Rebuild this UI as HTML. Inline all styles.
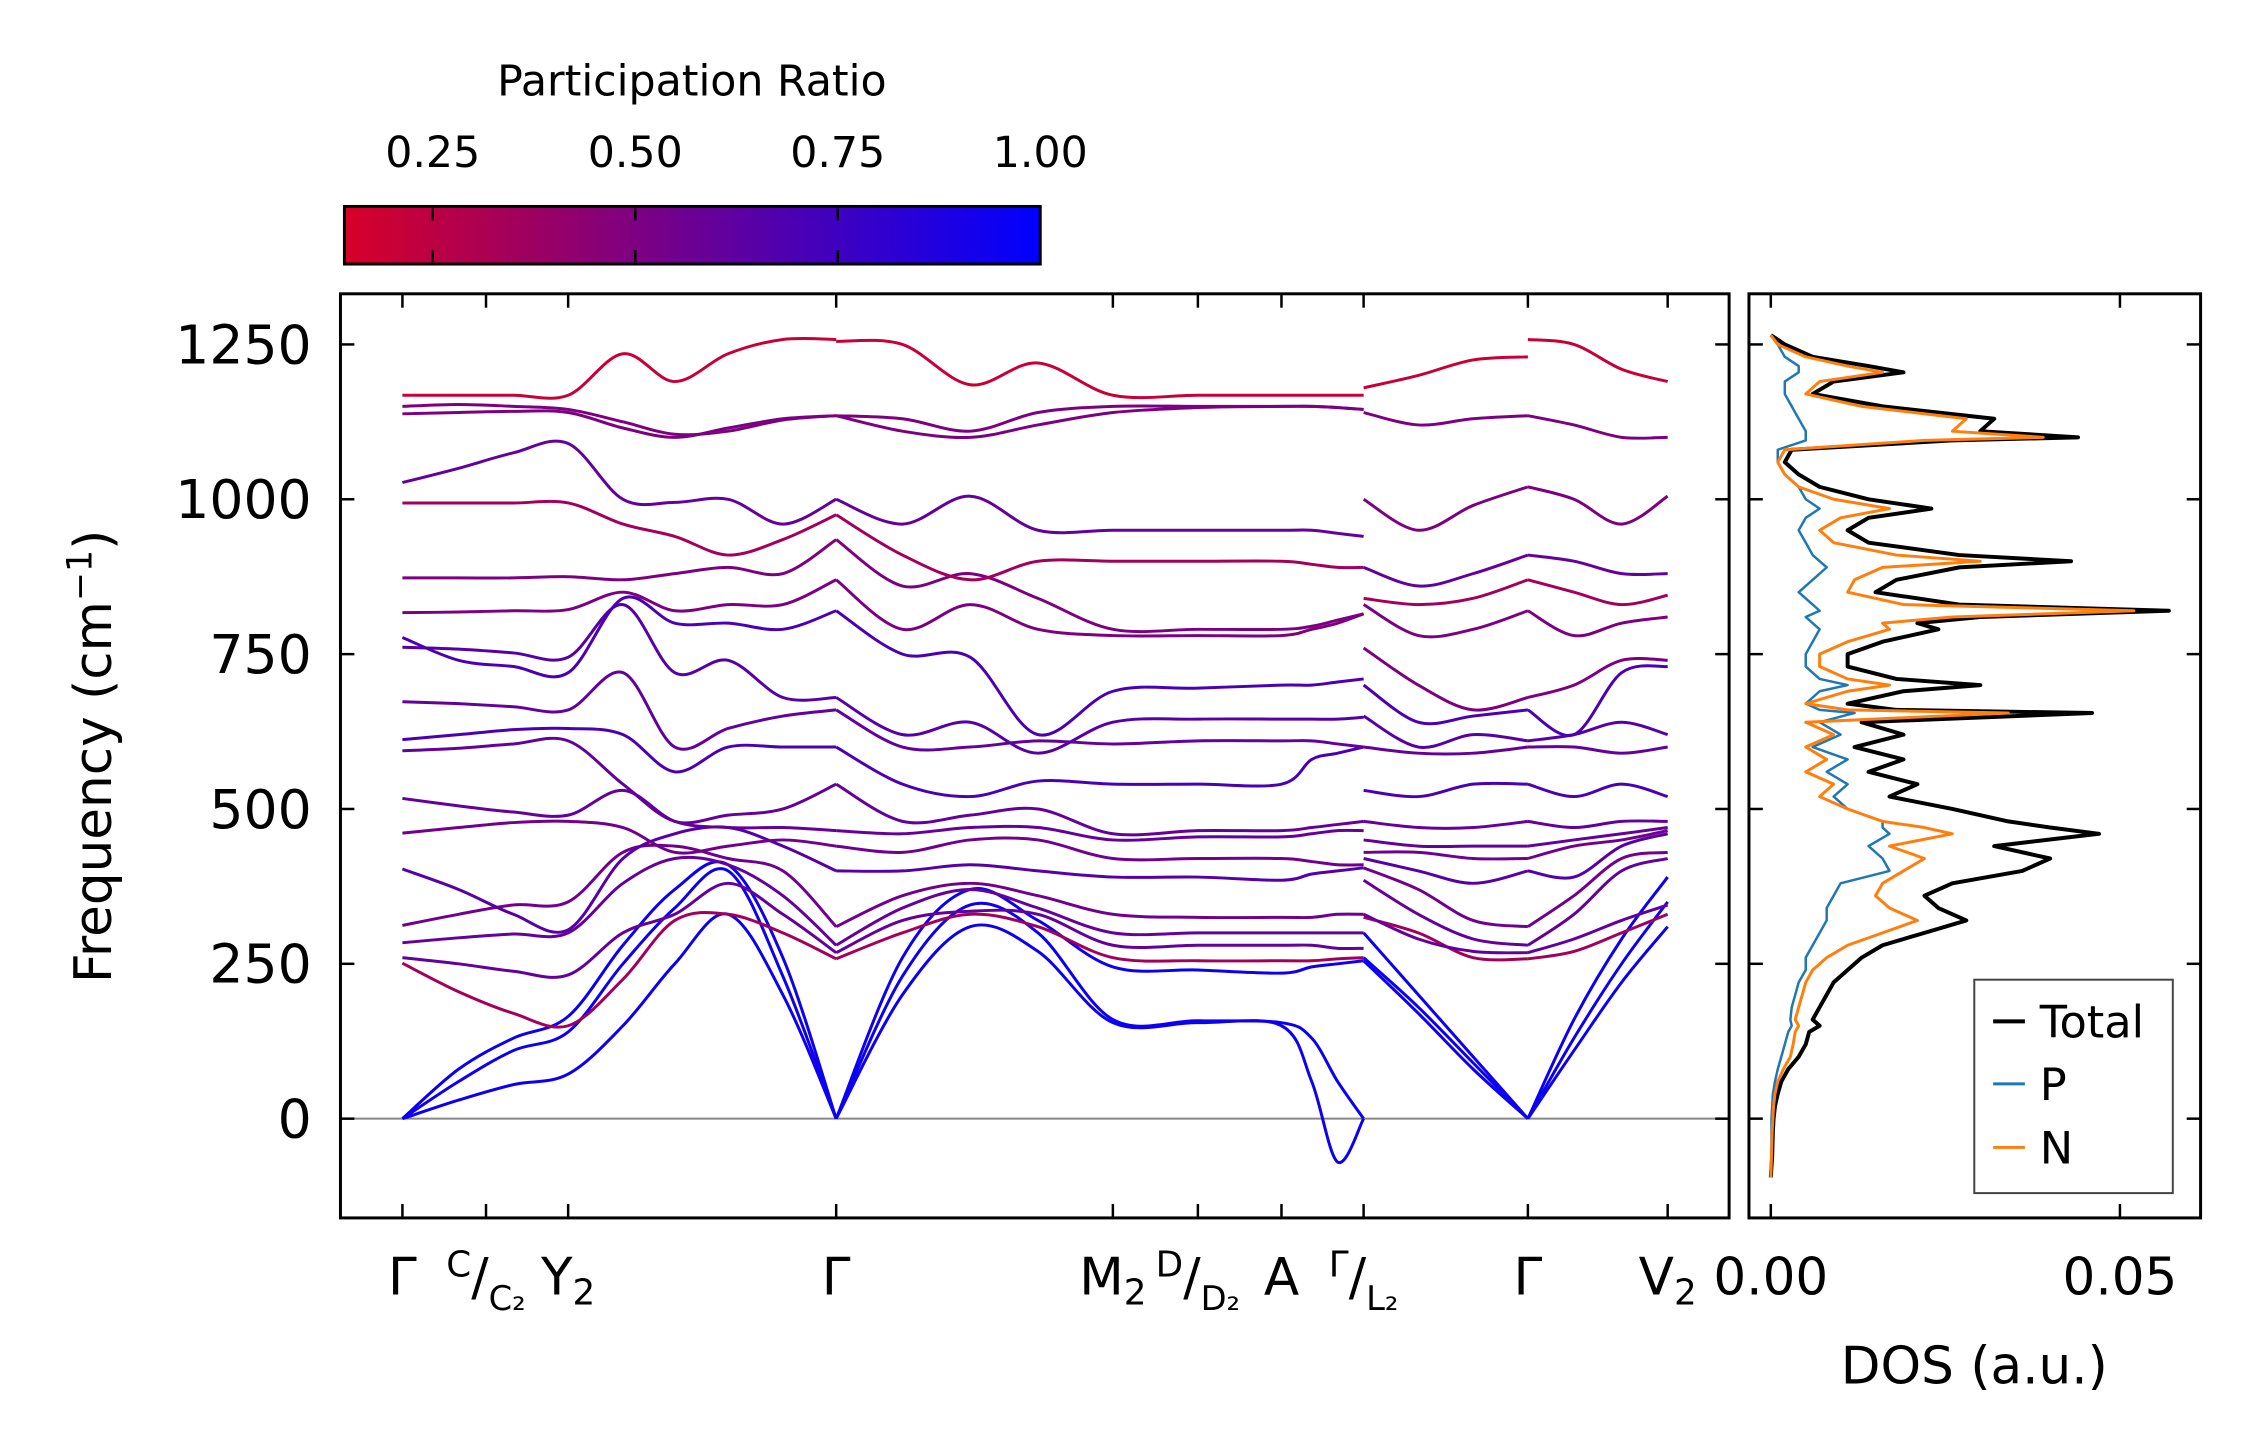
<!DOCTYPE html>
<html><head><meta charset="utf-8"><style>
html,body{margin:0;padding:0;background:#fff}
svg{display:block}
text{font-family:"DejaVu Sans","Liberation Sans",sans-serif;fill:#000}
</style></head><body>
<svg id="fig" width="2259" height="1455" viewBox="0 0 2259 1455" xmlns="http://www.w3.org/2000/svg">
<defs>
<linearGradient id="cbgrad" x1="0" x2="1" y1="0" y2="0">
<stop offset="0" stop-color="rgb(215,0,40)"/><stop offset="1" stop-color="rgb(0,0,255)"/>
</linearGradient>
<clipPath id="mainclip"><rect x="343" y="296" width="1399" height="931"/></clipPath>
<clipPath id="dosclip"><rect x="1762" y="296" width="455" height="931"/></clipPath>
</defs>
<g transform="scale(0.9926)">
<g id="colorbar">
<text x="697" y="96" font-size="43" text-anchor="middle">Participation Ratio</text>
<rect x="347" y="208" width="701" height="58" fill="url(#cbgrad)" stroke="#000" stroke-width="3"/>
<g id="cbticks"></g>
</g>
<g id="main">
<line x1="343" x2="1742" y1="1127" y2="1127" stroke="#888" stroke-width="2"/>
<g id="bands" clip-path="url(#mainclip)"></g>
<rect x="343" y="296" width="1399" height="931" fill="none" stroke="#000" stroke-width="3"/>
<g id="mainticks"></g>
<text transform="translate(112,762) rotate(-90)" font-size="52" text-anchor="middle">Frequency (cm<tspan font-size="35" dy="-20">−1</tspan><tspan dy="20">)</tspan></text>
</g>
<g id="dos">
<g id="doslines" clip-path="url(#dosclip)"></g>
<rect x="1762" y="296" width="455" height="931" fill="none" stroke="#000" stroke-width="3"/>
<g id="dosticks"></g>
<text x="1989" y="1394" font-size="52" text-anchor="middle">DOS (a.u.)</text>
<g>
<rect x="1989" y="987" width="200" height="215" fill="#fff" stroke="#444" stroke-width="2"/>
<line x1="2008" x2="2040" y1="1029" y2="1029" stroke="#000" stroke-width="4"/>
<text x="2055" y="1045" font-size="45">Total</text>
<line x1="2008" x2="2040" y1="1092" y2="1092" stroke="#1f77b4" stroke-width="3"/>
<text x="2055" y="1108" font-size="45">P</text>
<line x1="2008" x2="2040" y1="1156" y2="1156" stroke="#ff7f0e" stroke-width="3"/>
<text x="2055" y="1172" font-size="45">N</text>
</g>
</g>
</g>
</svg>
<script>
// ---- chart data ----
const kA = [279,318,356,394,432,468,505,543,580];
const kB = [580,626,673,720,772,831,889,910,928,946];
const kC = [946,984,1022,1060];
const kD = [1060,1092,1125,1157];
const bandA = [
[0,30,55,72,150,250,330,200,0],[0,60,110,140,250,340,400,230,0],[0,80,130,165,280,370,410,260,0],
[251,205,170,150,225,320,330,300,258],[260,250,238,232,300,330,380,330,268],[284,292,298,300,380,420,410,360,280],
[312,330,345,350,430,440,420,400,310],[403,370,330,305,420,460,470,440,400],[461,470,478,480,470,430,440,450,440],
[517,505,495,490,530,480,470,470,465],[594,598,605,610,540,480,490,500,540],[612,620,628,630,620,560,600,600,600],
[673,670,665,660,720,600,630,650,660],[761,758,752,745,830,720,740,680,680],[777,740,730,720,840,800,800,790,820],
[817,818,820,822,850,820,830,830,870],[873,873,873,875,870,880,890,880,935],[994,994,994,994,960,940,910,935,975],
[1027,1050,1075,1090,1000,995,1000,960,1000],[1138,1140,1142,1140,1115,1100,1115,1130,1135],
[1150,1153,1150,1145,1125,1105,1110,1128,1135],[1168,1168,1168,1168,1235,1190,1235,1258,1258]];
const bandB = [
[0,200,310,270,155,155,150,60,-70,0],[0,230,345,300,160,158,155,130,60,0],[0,260,370,320,245,240,235,245,250,255],
[258,300,330,310,260,255,255,255,258,260],[268,320,335,330,280,280,280,280,275,275],[280,340,370,340,300,300,300,300,300,300],
[310,360,380,360,330,325,325,325,330,330],[400,400,410,400,390,390,385,395,400,405],[440,430,450,450,420,420,420,415,410,410],
[465,460,470,470,450,455,455,460,465,465],[540,480,490,500,460,465,465,470,475,480],[600,540,520,545,540,540,540,580,590,600],
[660,600,600,610,605,610,610,610,605,600],[680,620,640,590,640,645,645,645,645,648],[820,750,745,620,690,695,700,700,705,710],
[870,790,830,790,780,780,780,790,800,815],[935,860,880,840,790,790,790,795,805,815],[975,910,870,900,900,900,900,895,890,890],
[1000,960,1005,950,950,950,950,950,945,940],[1135,1110,1100,1120,1140,1148,1150,1150,1148,1145],
[1135,1130,1110,1140,1150,1150,1150,1150,1148,1145],[1255,1250,1185,1220,1168,1168,1168,1168,1168,1168]];
const bandC = [
[255,170,80,0],[260,180,90,0],[300,200,100,0],[325,300,260,258],[330,290,270,268],[385,330,290,280],
[405,370,320,310],[420,400,380,400],[430,430,420,420],[450,440,440,440],[480,470,470,480],[530,520,540,540],
[600,590,590,600],[650,600,620,610],[700,640,650,660],[760,700,660,680],[830,780,790,820],[840,830,840,870],
[890,860,880,910],[1000,950,990,1020],[1140,1120,1130,1135],[1180,1200,1225,1230]];
const bandD = [
[0,110,220,310],[0,130,250,350],[0,160,290,390],[258,270,300,330],[268,290,320,345],[280,330,400,420],
[310,360,420,430],[400,390,440,460],[420,440,450,465],[440,450,460,470],[480,470,480,480],[540,520,540,520],
[600,600,590,600],[610,620,640,620],[660,620,720,730],[680,700,740,740],[820,780,800,810],[870,850,830,845],
[910,900,880,880],[1020,1000,960,1005],[1135,1120,1100,1100],[1258,1250,1210,1190]];
const bandPR = [0.95,0.95,0.95,0.35,0.6,0.6,0.55,0.65,0.55,0.6,0.6,0.7,0.6,0.65,0.7,0.5,0.5,0.35,0.6,0.5,0.5,0.2];
const kTicks = [279,337,394,580,772,831,889,946,1060,1157];
const yTicks = [0,250,500,750,1000,1250];
const cbTicks = [0.25,0.5,0.75,1.0];
const dosFreq = [-95,-60,-20,0,20,40,60,80,100,120,140,150,160,180,200,220,240,260,280,300,320,340,360,380,400,420,440,460,470,480,500,520,540,560,580,600,620,640,655,660,670,690,700,710,730,750,770,790,800,810,820,830,850,870,890,900,910,930,950,970,985,1000,1020,1040,1060,1080,1095,1100,1110,1130,1150,1170,1190,1205,1215,1230,1250,1265];
const dosTotal = [0,0.0002,0.0003,0.0004,0.0006,0.001,0.0015,0.0025,0.004,0.005,0.0055,0.007,0.006,0.007,0.008,0.009,0.011,0.013,0.016,0.022,0.028,0.024,0.022,0.026,0.036,0.040,0.032,0.047,0.040,0.034,0.026,0.017,0.021,0.014,0.019,0.012,0.019,0.013,0.046,0.018,0.011,0.019,0.030,0.018,0.011,0.011,0.016,0.024,0.021,0.030,0.057,0.027,0.015,0.018,0.027,0.043,0.027,0.014,0.011,0.014,0.023,0.014,0.007,0.004,0.002,0.003,0.026,0.044,0.030,0.032,0.016,0.006,0.009,0.019,0.014,0.006,0.002,0];
const dosN = [0,0.0001,0.0002,0.0003,0.0004,0.0006,0.001,0.0018,0.0028,0.0032,0.0035,0.004,0.0035,0.004,0.0045,0.005,0.006,0.008,0.011,0.016,0.021,0.017,0.015,0.016,0.019,0.022,0.017,0.026,0.022,0.016,0.011,0.007,0.009,0.005,0.008,0.005,0.009,0.005,0.034,0.011,0.005,0.011,0.017,0.011,0.007,0.007,0.011,0.017,0.016,0.026,0.052,0.019,0.011,0.012,0.016,0.030,0.018,0.009,0.007,0.01,0.017,0.009,0.004,0.002,0.001,0.002,0.022,0.039,0.026,0.028,0.013,0.005,0.007,0.016,0.011,0.005,0.001,0];
const dosP = [0,0.0001,0.0001,0.0001,0.0002,0.0003,0.0006,0.001,0.0015,0.002,0.0025,0.003,0.0028,0.003,0.0035,0.004,0.005,0.005,0.006,0.007,0.008,0.008,0.009,0.01,0.017,0.016,0.014,0.017,0.016,0.016,0.011,0.009,0.011,0.008,0.011,0.006,0.01,0.007,0.012,0.007,0.005,0.007,0.011,0.007,0.005,0.005,0.006,0.007,0.006,0.005,0.007,0.006,0.004,0.006,0.008,0.007,0.006,0.005,0.004,0.005,0.007,0.005,0.004,0.002,0.001,0.001,0.005,0.005,0.005,0.004,0.003,0.002,0.002,0.004,0.004,0.002,0.001,0];

// ---- scales ----
const NS = 'http://www.w3.org/2000/svg';
function xK(k){ return 343 + (k - 236) * 1.4518; }
function yF(f){ return 1127 - f * 0.624; }
function xD(d){ return 1784 + d * 7035; }
function xPR(p){ return 347 + (p - 0.141) / (1 - 0.141) * 701; }
function prColor(p){ const t=(p-0.141)/(1-0.141); return 'rgb('+Math.round(215*(1-t))+',0,'+Math.round(40+215*t)+')'; }
function mk(tag, parent){ const e=document.createElementNS(NS,tag); parent.appendChild(e); return e; }
function smoothPath(pts){
  let d='M'+pts[0][0].toFixed(1)+','+pts[0][1].toFixed(1);
  for(let i=0;i<pts.length-1;i++){
    const p0=pts[Math.max(0,i-1)],p1=pts[i],p2=pts[i+1],p3=pts[Math.min(pts.length-1,i+2)];
    const c1=[p1[0]+(p2[0]-p0[0])/6,p1[1]+(p2[1]-p0[1])/6];
    const c2=[p2[0]-(p3[0]-p1[0])/6,p2[1]-(p3[1]-p1[1])/6];
    d+='C'+c1[0].toFixed(1)+','+c1[1].toFixed(1)+' '+c2[0].toFixed(1)+','+c2[1].toFixed(1)+' '+p2[0].toFixed(1)+','+p2[1].toFixed(1);
  }
  return d;
}
// ---- bands ----
const gB = document.getElementById('bands');
const segs = [[kA,bandA],[kB,bandB],[kC,bandC],[kD,bandD]];
segs.forEach(function(s, si){
  s[1].forEach(function(vals, bi){
    const pts = vals.map(function(v,i){ return [xK(s[0][i]), yF(v)]; });
    const p = mk('path', gB);
    p.setAttribute('d', smoothPath(pts));
    p.setAttribute('fill','none');
    p.setAttribute('stroke', prColor(bandPR[bi]));
    p.setAttribute('stroke-width','3');
    
    
  });
});
// ---- main ticks ----
const gT = document.getElementById('mainticks');
kTicks.forEach(function(k){
  const x = xK(k);
  [[1227,1213],[296,310]].forEach(function(yy){
    const l = mk('line', gT);
    l.setAttribute('x1',x); l.setAttribute('x2',x); l.setAttribute('y1',yy[0]); l.setAttribute('y2',yy[1]);
    l.setAttribute('stroke','#000'); l.setAttribute('stroke-width','2.5');
    
    
  });
});
yTicks.forEach(function(f){
  const y = yF(f);
  [[343,357],[1742,1728],[1762,1776],[2217,2203]].forEach(function(xx){
    const l = mk('line', gT);
    l.setAttribute('x1',xx[0]); l.setAttribute('x2',xx[1]); l.setAttribute('y1',y); l.setAttribute('y2',y);
    l.setAttribute('stroke','#000'); l.setAttribute('stroke-width','2.5');
    
    
  });
  const t = mk('text', gT);
  t.setAttribute('x', 314); t.setAttribute('y', y + 19);
  t.setAttribute('font-size','54'); t.setAttribute('text-anchor','end');
  t.textContent = String(f);
  
  
});
// x tick labels (high-symmetry points)
const labelSpec = [
 [279,'Γ',null,null,null],[337,null,'C','C₂',null],[394,'Y','','','2'],[580,'Γ',null,null,null],
 [772,'M','','','2'],[831,null,'D','D₂',null],[889,'A',null,null,null],[946,null,'Γ','L₂',null],
 [1060,'Γ',null,null,null],[1157,'V','','','2']];
labelSpec.forEach(function(s){
  const x = xK(s[0]);
  const t = mk('text', gT);
  t.setAttribute('font-size','52');
  t.setAttribute('y', 1304);
  t.setAttribute('x', x); t.setAttribute('text-anchor','middle');
  if (s[1]) {
    t.textContent = s[1];
    if (s[4]) { const ts = mk('tspan', t); ts.setAttribute('font-size','36'); ts.setAttribute('dy','10'); ts.textContent = s[4]; }
  } else {
    const a = mk('tspan', t); a.setAttribute('font-size','36'); a.setAttribute('dy','-18'); a.textContent = s[2];
    const b = mk('tspan', t); b.setAttribute('dy','18'); b.textContent = '/';
    const c = mk('tspan', t); c.setAttribute('font-size','34'); c.setAttribute('dy','16'); c.textContent = s[3];
  }
  
  
});
// ---- colorbar ticks ----
const gC = document.getElementById('cbticks');
cbTicks.forEach(function(v){
  const x = xPR(v);
  if (v < 1) {
    [[210,222],[264,252]].forEach(function(yy){
      const l = mk('line', gC);
      l.setAttribute('x1',x); l.setAttribute('x2',x); l.setAttribute('y1',yy[0]); l.setAttribute('y2',yy[1]);
      l.setAttribute('stroke','#000'); l.setAttribute('stroke-width','2.5');
      
      
    });
  }
  const t = mk('text', gC);
  t.setAttribute('x', x); t.setAttribute('y', 168);
  t.setAttribute('font-size','43'); t.setAttribute('text-anchor','middle');
  t.textContent = v.toFixed(2);
  
  
});
// ---- DOS ----
const gD = document.getElementById('doslines');
[[dosP,'#1f77b4',2.5,'dos-p'],[dosTotal,'#000',4,'dos-total'],[dosN,'#ff7f0e',3,'dos-n']].forEach(function(s){
  const n = Math.min(s[0].length, dosFreq.length);
  let d = '';
  for (let i=0;i<n;i++) d += (i?'L':'M') + xD(s[0][i]).toFixed(1) + ',' + yF(dosFreq[i]).toFixed(1);
  const p = mk('path', gD);
  p.setAttribute('d', d); p.setAttribute('fill','none'); p.setAttribute('stroke', s[1]);
  p.setAttribute('stroke-width', s[2]); p.setAttribute('stroke-linejoin','round');
  
  
});
const gDT = document.getElementById('dosticks');
[0, 0.05].forEach(function(v){
  const x = xD(v);
  [[1227,1213],[296,310]].forEach(function(yy){
    const l = mk('line', gDT);
    l.setAttribute('x1',x); l.setAttribute('x2',x); l.setAttribute('y1',yy[0]); l.setAttribute('y2',yy[1]);
    l.setAttribute('stroke','#000'); l.setAttribute('stroke-width','2.5');
    
    
  });
  const t = mk('text', gDT);
  t.setAttribute('x', x); t.setAttribute('y', 1304);
  t.setAttribute('font-size','52'); t.setAttribute('text-anchor','middle');
  t.textContent = v.toFixed(2);
  
  
});
</script>
</body></html>
